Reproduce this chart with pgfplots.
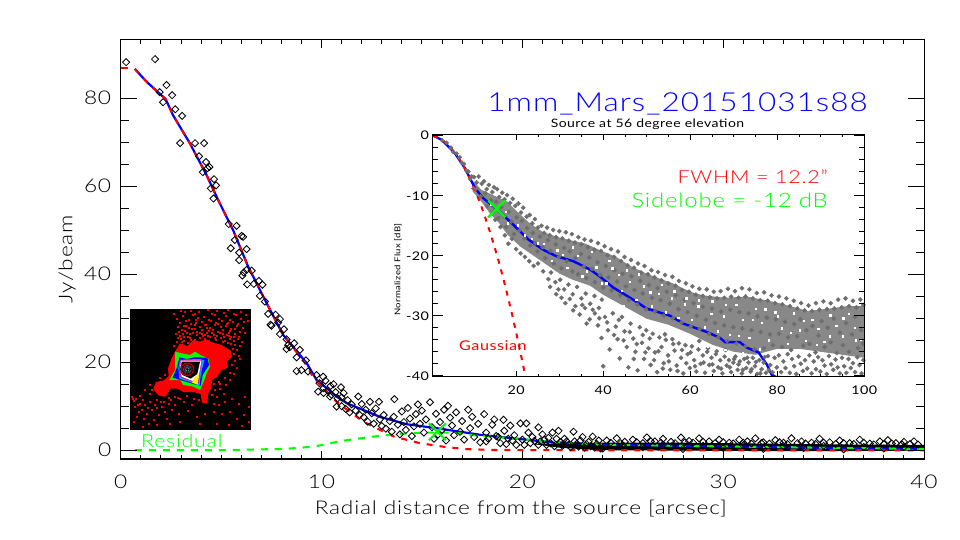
\documentclass[border=0pt]{standalone}
\usepackage{pgfplots}
\pgfplotsset{compat=1.18}
\usepackage{fontspec}
\setmainfont{Lato Light}[FakeStretch=1.2,LetterSpace=4]
\newfontfamily\rf{Lato}[FakeStretch=1.2,LetterSpace=4]
\newcommand{\fs}[1]{\fontsize{#1}{#1}\selectfont}
\definecolor{dg}{RGB}{110,110,110}
\definecolor{bandg}{RGB}{136,136,136}
\definecolor{rd}{RGB}{255,0,0}
\definecolor{bl}{RGB}{0,0,255}
\definecolor{gr}{RGB}{0,255,0}
\pgfplotsset{
 base/.style={scale only axis,anchor=south west,clip=true,tick align=inside,
  axis line style={line width=1bp,black},
  tick style={line width=0.9bp,black},
  /pgf/number format/assume math mode=true},
 mainbox/.style={base,at={(120.7bp,81bp)},width=803.3bp,height=419bp,
  xmin=0,xmax=40,ymin=-2,ymax=93.25},
 insetbox/.style={base,at={(432.5bp,163bp)},width=431.7bp,height=242.5bp,
  xmin=0.76,xmax=100,ymin=-40.2,ymax=0.2},
}
\begin{document}
\begin{tikzpicture}
\useasboundingbox (0,0) rectangle (960bp,540bp);
% ---------- main axis
\begin{axis}[mainbox,
 xtick={0,10,20,30,40},minor x tick num=9,ytick=\empty,
 major tick length=8bp,minor tick length=4bp,
 xticklabel style={font=\fs{19},yshift=-12bp},
 xlabel={Radial distance from the source [arcsec]},
 xlabel style={font=\fs{19},at={(axis description cs:0.498,-0.119)},anchor=center},
]
\addplot[fill=black,draw=none] coordinates {(20.5,1.4)(22,1.6)(24,1.7)(28,1.7)(32,1.5)(36,1.3)(40,1.2)(40,-.1)(36,-.2)(32,-.2)(28,-.1)(24,0)(22,.5)} -- cycle;
\addplot[only marks,mark=square,mark size=2.5bp,mark options={rotate=45,line width=0.85bp,black}] coordinates {
(.27,88.2)(1.71,88.9)(2.28,83)(2.56,80.7)(1.94,81.4)(2.11,79.1)(2.72,77.5)(3.06,76)(2.96,69.8)(3.7,69.8)(4.15,69.8)(3.9,66.8)(4.25,65.5)(4.42,64.4)(4.32,64.1)(4.09,63.2)(4.65,61.6)(4.75,60.2)(4.49,59.5)(4.62,57.2)
(5.38,51.4)(5.77,51)(6.02,48.7)(6.1,48.5)(5.68,47.8)(5.48,45.9)(6.27,45.7)(5.9,44.9)(5.9,43.2)(6.52,40.8)(6.27,41)(6.13,40.4)(6.06,39.7)(6.3,37.7)(6.63,37.8)(6.88,38.5)(7.06,37.6)(6.93,35.1)(7.18,33.8)(7.34,31)(7.71,30.8)(7.93,29.8)(7.84,29)(7.46,28.5)(7.51,28.3)(8.13,27.5)(7.93,26.4)(8.26,25.2)(8.64,24.3)(8.34,23.9)(8.42,23.4)(8.92,22.8)(8.26,23)(8.76,21.1)(9.22,20.4)(8.76,18)(9,18.2)(9.33,17.9)(9.75,17.1)(10.08,16.7)(9.83,13.3)(10.1,13)(10.42,12.2)(10.75,9.9)
(9.9,15.2)(10.1,14.1)(10.2,15.8)(10.3,13.6)(10.45,14.6)(10.5,12.6)(10.6,15)(10.7,13.2)(10.8,11.8)(10.97,14.3)(11,12)(11,10)(11.1,13)(11.2,9.4)(11.3,11.4)(11.4,8.6)(11.5,10.4)(11.7,9)(11.83,12.2)(11.9,8)(12,10.5)(12.1,7.5)(12.2,9.2)(12.3,6.5)(12.41,11)(12.5,8.4)(12.6,6)(12.7,9.5)(12.86,11)(12.9,7)(13,5.5)(13.1,8)(13.2,4.9)(13.4,6.6)(13.63,11.6)
(13.5,4.2)(13.6,7.6)(13.8,5.8)(13.9,3.6)(14,8.8)(14.1,6.4)(14.2,4.6)(14.3,9.6)(14.4,7.2)(14.5,3.2)(14.6,5.4)(14.7,8.2)(14.8,10.4)(14.9,6)(15,9)(15.1,4)(15.2,7)(15.4,10.9)(15.5,5.2)(15.6,2.6)(15.7,8.3)(15.8,3.6)(15.9,6.4)(16,4.6)(16.1,9.2)(16.2,2.2)(16.3,10.1)(16.4,7.4)(16.5,5.6)(16.6,3.4)(16.7,8.6)(16.9,4.2)(17,6.6)(17.1,2.4)(17.3,9.2)(17.4,5)(17.5,7.6)(17.6,3)(17.8,6)(17.9,1.8)(18.1,8.2)(18.2,4)(18.3,2.6)(18.5,5.8)(18.6,7)(18.7,3.2)(18.9,1.6)(19.06,6.9)(19.1,4.4)(19.3,2.6)(19.4,5.6)(19.6,3.4)(19.7,1.2)(19.9,6.1)(20,2.4)(20.2,6.1)(20.3,4)(20.4,1.6)(20.5,3)(20.8,5.2)(20.9,2)(21,3.6)(21.2,1.2)(21.3,2.8)(21.5,4)(21.6,.9)(21.8,4.4)(21.9,1.8)(22.1,2.6)(22.3,1.2)(22.55,4.2)(22.6,2)(22.8,.8)(23,3)(23.2,1.4)(23.5,3.1)(23.6,.6)(23.8,2.2)
(18.2,2)(18.8,3)(19.2,1.4)(19.5,2.2)(20.1,1.2)(20.6,2.1)(20.8,1.2)(21.1,2.4)(21.4,1.6)(21.7,2.6)(22,1)(22.2,2)(22.4,.7)(22.7,1.4)(22.9,2.2)(23.1,.6)(23.3,1.9)(23.4,.9)(23.7,1.4)(23.9,.4)
(24.2,2.2)(24.7,2.7)(25.1,1.9)(25.5,2.4)(26.2,2.9)(26.6,2)(27,2.6)(27.4,1.9)(27.9,2.9)(28.3,2.1)(28.8,2.7)(29.3,2)(29.8,2.4)(30.3,1.7)(30.8,2.4)(31.2,2)(31.6,2.7)(32,1.8)(32.6,2.3)(33,1.7)(33.4,2.7)(33.9,2)(34.4,1.7)(34.8,2.6)(35.3,1.8)(35.8,2.2)(36.3,1.6)(36.8,2.4)(37.3,1.5)(37.8,2)(38.2,2.3)(38.6,1.6)(39,1.9)(39.5,2)
(24.4,1.7)(24.9,1.6)(25.7,1.8)(26,1.6)(26.4,2)(26.9,1.7)(27.6,1.6)(28.1,1.8)(28.5,1.7)(29,1.9)(29.6,1.6)(30,1.8)(30.5,1.5)(31,1.7)(31.4,1.5)(31.9,1.6)(32.3,1.5)(32.8,1.8)(33.2,1.4)(33.7,1.6)(34.1,1.5)(34.6,1.4)(35,1.7)(35.6,1.4)(36,1.6)(36.5,1.4)(37,1.7)(37.5,1.3)(38,1.4)(38.4,1.5)(38.9,1.3)(39.3,1.4)(39.7,1.3)
(24,.4)(25,1.1)(26,.7)(27,1.2)(28,.3)(29,1)(30,.5)(31,1.1)(32,.3)(33,.9)(34,.5)(35,1)(36,.2)(37,.7)(38,.4)(39,.7)
};
\addplot[bl,line width=2.2bp] coordinates {(.7,86.7)(1.28,83.8)(2.24,79.8)(2.6,76.2)(3.44,69.8)(4.27,62.6)(4.85,56.9)(5.6,50)(6.35,41.7)(7.18,34.2)(8.09,26.2)(9.26,19.8)(9.75,16)(10.75,12.2)(11.25,10.7)(12.9,7.6)(14.24,5.9)(15.74,5)(17.9,3.5)(21,2)(23.9,1.25)(28,1)(32,.75)(36,.5)(40,.3)};
\addplot[rd,line width=2.1bp,dash pattern=on 6bp off 7bp] coordinates {(.7,86.7)(1.28,83.8)(2.24,79.8)(2.6,76.2)(3.44,69.8)(4.27,62.6)(4.85,56.9)(5.6,50)(6.35,41.7)(7.18,34.2)(8.09,26.2)(9.26,19.3)(9.6,16.4)(10.75,11)(12.07,6.5)(13.6,3.1)(14.9,1.6)(16.2,.7)(17.2,.25)(18.5,.05)(22,0)(40,0)};
\addplot[rd,line width=2.1bp] coordinates {(0,86.8)(.35,86.8)};
\addplot[gr,line width=2.1bp,dash pattern=on 7bp off 7bp] coordinates {(.7,0)(5,0)(8.2,.3)(9.6,.8)(11,2.1)(12.4,3)(13.75,3.7)(15.07,4)(16.55,4)(17.9,3.25)(19.6,2.7)(21,2)(23.9,1.25)(28,1)(32,.75)(36,.5)(40,.3)};
\addplot[only marks,mark=x,mark size=12bp,mark options={gr,line width=2.2bp}] coordinates {(15.77,4.2)};
\end{axis}
\begin{axis}[mainbox,
 ytick={0,20,40,60,80},minor y tick num=3,xtick=\empty,
 major tick length=16bp,minor tick length=8bp,
 yticklabel style={font=\fs{19},xshift=-6bp},
 ylabel={Jy/beam},
 ylabel style={font=\fs{19},at={(axis description cs:-0.0668,0.477)},anchor=center},
]
\addplot[draw=none,forget plot] coordinates {(0,0)};
\end{axis}
% ---------- colour image
\begin{axis}[scale only axis,anchor=south west,at={(130bp,110bp)},width=121bp,height=121bp,
 xmin=90,xmax=453,ymin=57,ymax=420,y dir=reverse,xtick=\empty,ytick=\empty,
 axis line style={draw=none},axis background/.style={fill=black}]
\addplot[fill=rd,draw=none] coordinates {(228,180)(240,160)(262,168)(280,150)(300,155)(318,148)(340,158)(365,165)(392,182)(396,200)(380,215)(385,232)(365,240)(350,262)(338,268)(333,295)(325,310)(322,340)(306,338)(302,312)(280,306)(250,306)(232,296)(212,296)(196,320)(175,316)(160,296)(168,276)(190,272)(206,258)(204,235)(215,205)} -- cycle;
\addplot[only marks,mark=square*,mark size=0.62bp,rd] coordinates {
(222,72)(241,63)(253,66)(271,61)(284,70)(297,64)(322,59)(336,71)(349,63)(371,67)(383,60)(401,72)(423,64)(437,73)(231,85)(249,76)(267,88)(279,74)(293,84)(312,79)(325,90)(344,75)(357,86)(376,77)(389,88)(407,74)(421,85)(443,91)
(238,98)(256,93)(273,101)(287,89)(304,95)(318,103)(331,92)(347,99)(366,91)(379,102)(397,94)(413,100)(431,96)(234,110)(251,106)(266,113)(283,104)(299,111)(314,105)(329,114)(345,103)(361,110)(377,106)(393,115)(409,107)(427,113)
(236,124)(246,119)(259,127)(275,116)(289,124)(305,120)(321,127)(337,118)(353,125)(369,119)(385,128)(403,117)(419,126)(238,137)(249,131)(263,139)(277,129)(291,135)(306,130)(322,138)(336,129)(351,136)(367,131)(381,134)(393,140)(405,131)(417,140)(433,127)(241,147)(252,152)(268,143)(284,149)(299,142)(314,146)(330,141)(346,149)(361,143)(374,152)(388,147)(400,152)(412,145)(425,154)(231,156)(222,168)(244,154)(262,158)(278,160)(382,158)(392,162)(405,164)(420,167)(398,177)(410,180)(402,192)(415,197)(405,212)(418,207)(395,225)(410,232)(388,247)(402,252)(375,262)(390,268)(360,280)(378,285)
(228,132)(233,143)(255,122)(268,130)(284,117)(298,127)(313,133)(327,121)(342,135)(358,128)(372,141)(388,122)(250,141)(272,150)(290,156)(308,138)(326,152)(344,142)(368,154)(386,137)(402,141)(256,108)(288,98)(320,113)(354,100)(383,97)
(95,320)(100,332)(108,325)(118,340)(105,350)(125,358)(135,345)(115,365)(140,372)(150,335)(155,360)(165,345)(175,375)(160,388)(185,350)(195,365)(205,340)(215,358)(130,385)(110,380)(145,400)(170,405)(200,385)(225,345)(235,372)(250,335)(262,362)(275,345)(290,380)(210,400)(240,395)(100,395)(128,410)(97,326)(112,345)(128,330)(143,352)(170,352)(182,335)(212,330)(232,322)
(150,312)(170,330)(190,335)(205,322)(225,320)(240,325)(260,318)(280,325)(295,330)(345,300)(360,295)(350,320)(372,310)(340,340)(355,345)(375,335)(395,325)(415,340)(435,320)(445,350)(340,365)(365,372)(390,365)(410,385)(430,375)(350,400)(385,405)(445,395)(425,408)(315,370)(300,400)(150,285)(135,300)(120,318)(195,255)(180,275)(178,262)(170,290)(155,300)(342,280)(355,275)(335,315)
};
\addplot[fill=gr,draw=none] coordinates {(225,185)(245,190)(270,195)(285,185)(300,195)(325,205)(330,230)(320,250)(315,265)(300,300)(280,290)(250,285)(240,270)(208,270)(225,240)(225,210)} -- cycle;
\addplot[fill=bl,draw=none] coordinates {(238,202)(260,207)(285,202)(322,203)(327,225)(308,255)(302,287)(280,282)(250,273)(218,263)(232,230)} -- cycle;
\addplot[fill=cyan,draw=none] coordinates {(240,209)(300,207)(313,211)(303,250)(299,286)(270,276)(238,266)(235,235)} -- cycle;
\addplot[fill=magenta,draw=none] coordinates {(242,210)(306,210)(299,252)(295,283)(272,273)(242,263)(237,238)} -- cycle;
\addplot[fill=white,draw=none] coordinates {(243,212)(304,212)(297,255)(292,278)(270,270)(245,260)(240,238)} -- cycle;
\addplot[fill=yellow,draw=none] coordinates {(284,262)(297,252)(293,284)(276,278)} -- cycle;
\addplot[fill=black,draw=none] coordinates {(245,215)(300,215)(292,252)(272,266)(247,254)(242,238)} -- cycle;
\addplot[only marks,mark=*,mark size=7bp,mark options={draw=none,fill=rd!85!black}] coordinates {(262,238)};
\addplot[only marks,mark=*,mark size=5.6bp,mark options={draw=none,fill=rd!55!black}] coordinates {(262,238)};
\addplot[only marks,mark=*,mark size=4.5bp,mark options={draw=none,fill={rgb,255:red,135;green,115;blue,140}}] coordinates {(262,238)};
\addplot[only marks,mark=*,mark size=3.4bp,mark options={draw=none,fill={rgb,255:red,70;green,70;blue,175}}] coordinates {(262,238)};
\addplot[only marks,mark=*,mark size=2.4bp,mark options={draw=none,fill={rgb,255:red,120;green,170;blue,195}}] coordinates {(262,238)};
\addplot[only marks,mark=*,mark size=1.4bp,mark options={draw=none,fill=yellow}] coordinates {(262,238)};
\addplot[only marks,mark=*,mark size=0.6bp,mark options={draw=none,fill=black}] coordinates {(262,238)};
\end{axis}
% ---------- inset axis
\begin{axis}[insetbox,
 xtick={20,40,60,80,100},minor x tick num=3,ytick=\empty,
 major tick length=5.5bp,minor tick length=3bp,
 xticklabel style={font=\rf\fs{12},yshift=-5bp},
]
\addplot[fill=bandg,draw=none] coordinates {(10,-7.5)(12,-9)(15,-10)(18,-11)(20,-12.5)(23,-14.5)(26,-16)(30,-17)(33,-17.5)(36,-18)(39,-19)(43,-20.2)(46,-21.6)(50,-23)(56,-24.6)(60,-26)(63,-26.6)(68,-27)(73,-26.8)(78,-27.5)(81,-28)(87,-29.2)(92,-28.8)(96,-28.4)(100,-28.4)(100,-37)(95,-36.5)(90,-36)(85,-35.5)(80,-35.5)(75,-36.5)(70,-36)(65,-34.8)(60,-33)(55,-31.5)(50,-30.5)(45,-28.5)(40,-26.5)(37,-25)(33,-24)(30,-23)(27,-21.5)(24,-20)(21,-18.5)(18,-16.5)(16,-14.5)(14,-13)(12,-11)(10,-9.3)} -- cycle;
\addplot[only marks,mark=square*,mark size=1.5bp,mark options={rotate=45,dg}] coordinates {
(3,-.8)(4,-1.2)(5,-2)(5.5,-2.7)(6.3,-3)(7,-3.6)(7.5,-4.5)(8,-4.7)(8.5,-5.8)(9,-6)(9.4,-7.2)(9.8,-6.8)(10.2,-8.8)
(10.3,-6.9)(10.9,-7.8)(11.4,-6.8)(12.1,-8)(12.6,-7.6)(13.2,-8.9)(13.7,-8.2)(14.5,-9.4)(14.9,-8.6)(15.6,-8.9)(16.1,-10.2)(16.8,-9.5)(17.3,-10.6)(17.9,-9.9)(18.6,-11.2)(19.2,-10.5)(19.8,-11.7)(20.5,-11.3)(21.1,-12.8)(21.6,-12)(22.4,-13.5)(23.1,-13.2)(23.7,-14.6)(24.3,-13.9)(25,-15.3)(25.8,-15)(26.4,-16.2)(27.1,-15.3)(27.7,-16.6)(28.5,-15.7)(29.2,-16.9)(29.9,-15.9)(30.6,-17.1)(31.4,-16.1)(32.1,-17.5)(32.8,-16.4)(33.5,-17.8)(34.3,-16.9)(35,-18.1)(35.7,-17.3)(36.5,-18.6)(37.2,-17.5)(38,-19)(38.8,-17.9)(39.5,-19.2)(40.3,-18.4)(41,-19.9)(41.8,-18.9)(42.5,-20.2)(43.4,-19.3)(44.1,-20.9)(44.9,-20.2)(45.6,-21.6)(46.4,-20.7)(47.1,-22)(48,-21.3)(48.7,-22.8)(49.5,-21.7)(50.3,-23.1)(51.1,-22.4)(51.8,-23.6)(52.6,-22.7)(53.4,-24.1)(54.2,-23.2)(55,-24.6)(55.9,-23.5)(56.6,-25)(57.4,-24.2)(58.1,-25.7)(59,-24.6)(59.7,-26)(60.5,-25.1)(61.3,-26.5)(62.1,-25.5)(62.9,-26.7)(63.8,-25.6)(64.5,-26.9)(65.4,-26)(66.2,-27.1)(67,-25.9)(67.8,-27)(68.7,-25.5)(69.4,-26.8)(70.3,-25.9)(71.1,-27)(71.9,-25.4)(72.7,-26.8)(73.6,-25.6)(74.4,-27.1)(75.3,-26.2)(76.1,-27.4)(77,-26.1)(77.8,-27.5)(78.7,-26.6)(79.5,-27.9)(80.4,-26.8)(81.2,-28.1)(82.1,-27.1)(82.9,-28.4)(83.8,-27.5)(84.6,-28.8)(85.5,-27.9)(86.3,-29.1)(87.2,-28.3)(88,-29.2)(88.9,-27.9)(89.7,-29)(90.6,-27.6)(91.4,-28.9)(92.3,-27.9)(93.1,-28.8)(94,-27.3)(94.8,-28.6)(95.7,-27.1)(96.5,-28.4)(97.4,-27.5)(98.2,-28.6)(99.1,-27.3)(99.8,-28.2)
(10.8,-8.9)(11.8,-10.1)(12.9,-9.6)(13.3,-11.7)(14.2,-10.8)(14.8,-12.6)(15.4,-11)(15.9,-13.7)(16.6,-11.9)(17.1,-13.4)(17.7,-15.2)(18.3,-12.7)(18.9,-14.3)(19.5,-16.4)(20.1,-13.6)(20.7,-15.8)(21.3,-14.2)(21.9,-17.1)(22.5,-15.4)(23.2,-18.3)(23.8,-16.2)(24.4,-17.9)(24.9,-19.3)(25.5,-16.8)(26.1,-18.6)(26.7,-20.4)(27.3,-17.4)(27.9,-19.2)(28.6,-21.3)(29.1,-18.1)(29.8,-20.2)(30.4,-22.1)(31,-18.7)(31.6,-20.9)(32.3,-19.3)(32.9,-22.6)(33.6,-20.4)(34.2,-23.1)(34.9,-19.7)(35.5,-21.8)(36.1,-23.7)(36.8,-20.3)(37.4,-22.2)(38.1,-24.4)(38.7,-21.1)(39.3,-23.2)(40,-25.3)(40.6,-21.7)(41.2,-23.6)(41.9,-25.8)(42.6,-22.4)(43.2,-24.3)(43.9,-26.6)(44.5,-23)(45.2,-25.1)(45.9,-27.4)(46.5,-23.4)(47.2,-25.7)(47.8,-28.1)(48.5,-24.2)(49.1,-26.3)(49.8,-28.9)(50.5,-24.9)(51.2,-27)(51.9,-29.3)(52.5,-25.4)(53.2,-27.4)(53.9,-30)(54.6,-26)(55.3,-28)(56,-30.4)(56.7,-26.6)(57.3,-28.9)(58,-31.1)(58.7,-27.3)(59.4,-29.4)(60.1,-31.8)(60.8,-27.9)(61.5,-30)(62.2,-32.2)(62.9,-28.5)(63.6,-30.7)(64.3,-33)(65,-28.8)(65.7,-31.2)(66.4,-33.6)(67.1,-29.3)(67.8,-31.6)(68.5,-34.2)(69.2,-29)(69.9,-31.9)(70.6,-34.6)(71.3,-29.4)(72,-32.1)(72.7,-35.1)(73.4,-29.6)(74.1,-32.4)(74.8,-35.6)(75.5,-30.1)(76.2,-32.7)(76.9,-35.4)(77.6,-30.3)(78.3,-33.1)(79,-34.9)(79.7,-30.6)(80.4,-33)(81.1,-35.2)(81.8,-31)(82.5,-33.6)(83.2,-35.7)(83.9,-31.4)(84.6,-33.4)(85.3,-30.6)(86,-35)(86.7,-32.4)(87.4,-34.7)(88.1,-31.7)(88.8,-36.1)(89.5,-33.3)(90.2,-30.9)(90.9,-35.2)(91.6,-32)(92.3,-34.4)(93,-30.5)(93.7,-36.2)(94.4,-32.8)(95.1,-34.9)(95.8,-31.2)(96.5,-36)(97.2,-33.1)(97.9,-30.2)(98.6,-35.4)(99.3,-32.4)(99.7,-34.7)
(15.2,-14)(16.4,-15.2)(17.4,-16.6)(18.2,-18)(19,-17.2)(20,-18.9)(21,-19.6)(22,-20.2)(23,-20.9)(24,-21.7)(25,-21.3)(26.2,-22.6)(27.4,-23.9)(28,-22.8)(29,-24.4)(30.1,-24)(31,-25.6)(32,-24.8)(33,-26.4)(34,-25.2)(35,-27.1)(36,-26.3)(37,-28)(38,-26.7)(39,-28.7)(39.7,-27.3)
(27.8,-25.2)(29.2,-26.4)(30.4,-27)(32.3,-27.2)(33.6,-28.4)(34.6,-29.8)(35.8,-28.7)(36.9,-30.6)(38.1,-29.6)(38.8,-31.6)(39.6,-33.7)(40.4,-30.2)(41.1,-32.4)(41.5,-35.6)(40,-38.4)(42.2,-29.6)(42.9,-31.8)(43.3,-33.9)(43.8,-37.1)(44.3,-30.2)(44.9,-32.6)(45.4,-35.2)(45.8,-38.6)(46.3,-31.3)(46.9,-33.8)(47.4,-36)(47.9,-39.1)(48.4,-31.9)(48.9,-34.5)(49.4,-37.2)(49.9,-32.4)(50.4,-35.4)(50.9,-38.2)(51.4,-33)(51.9,-36.1)(52.4,-39.4)(52.9,-33.6)(53.4,-35.2)(53.9,-37.9)(54.4,-34)(54.9,-36.6)(55.4,-39)(55.9,-33.9)(56.4,-35.8)(56.9,-38.3)(57.4,-34.6)(57.9,-37)(58.4,-39.6)(58.9,-34.9)(59.4,-36.4)(59.9,-38.7)(60.4,-35.1)(60.9,-37.4)(61.4,-39.3)(61.9,-35.6)(62.4,-38)(62.9,-36.6)(63.4,-39.5)(63.9,-36)(64.4,-38.2)(64.9,-37)(65.4,-39.2)(65.9,-36.4)(66.4,-38.6)(66.9,-37.4)(67.4,-39.6)(67.9,-36.8)(68.4,-38.3)(68.9,-37.4)(69.4,-39.4)(69.9,-37.8)(70.4,-36.8)(70.9,-39)(71.4,-37.6)(71.9,-39.6)(72.4,-37.2)(72.9,-38.7)(73.4,-37.8)(73.9,-39.3)(74.4,-37)(74.9,-38.4)(75.4,-39.7)(75.9,-37.4)(76.4,-38.9)(76.9,-37.8)(77.4,-39.5)(77.9,-36.7)(78.4,-38.2)(78.9,-39.4)(79.4,-37)(79.9,-38.6)(80.4,-36.6)(80.9,-39.4)(81.4,-37.6)(81.9,-38.7)(82.4,-36.4)(82.9,-39.5)(83.4,-37.2)(83.9,-38.4)(84.4,-39.7)(84.9,-36.8)(85.4,-38)(85.9,-39.2)(86.4,-37.4)(86.9,-38.8)(87.4,-36.6)(87.9,-39.6)(88.4,-37.6)(88.9,-38.9)(89.4,-36.9)(89.9,-39.3)(90.4,-37.4)(90.9,-38.3)(91.4,-39.7)(91.9,-36.7)(92.4,-38.1)(92.9,-39)(93.4,-37.3)(93.9,-38.6)(94.4,-39.6)(94.9,-37)(95.4,-38.4)(95.9,-39.5)(96.4,-37.2)(96.9,-38.7)(97.4,-37.9)(97.9,-39.4)(98.4,-36.9)(98.9,-38.2)(99.4,-39.6)(99.8,-37.4)
(29.7,-25.6)(31.3,-27.9)(33.1,-29.1)(35.2,-28.2)(36.2,-31.3)(37.6,-29)(39.1,-30.4)(40.9,-31.1)(42.5,-33.2)(43.6,-30.7)(44.7,-34.1)(46.1,-32.7)(47,-37.2)(47.7,-34.7)(49.1,-33.2)(49.7,-36.1)(50.7,-33.8)(51.7,-37.4)(52.7,-35.9)(53.7,-38.8)(54.2,-33.1)(55.1,-37.6)(56.1,-34.7)(57.1,-39.2)(58.1,-35.7)(59.1,-37.9)(60.1,-36.1)(61.1,-38.4)(62.1,-34.2)(63.1,-37.8)(64.1,-35.4)(65.1,-38.1)(66.1,-35.9)(67.1,-38.8)(68.1,-35.7)(69.1,-38.6)(70.1,-37.2)(71.1,-38.1)(72.1,-39)(73.1,-37)(74.1,-38.9)(75.1,-37.7)(76.1,-39.6)(77.1,-36.9)(78.1,-39.1)
};
\addplot[only marks,mark=square*,mark size=0.7bp,mark options={white}] coordinates {
(14.2,-11.4)(17.6,-12.7)(20.4,-14.9)(23.6,-17.2)(26.3,-18)(29.4,-19.1)(31.7,-22)(34.1,-20)(36.2,-22.6)(38.4,-21.9)(40.7,-24.6)(42.1,-22.1)(44.2,-25.8)(46.1,-24.3)(47.6,-27.3)(49.3,-25.1)(51.1,-28.4)(52.8,-26.3)(54.3,-29.4)(55.8,-27.1)(57.2,-30.3)(58.8,-28.1)(60.3,-30.7)(61.8,-28.4)(63.3,-31.9)(64.8,-29.7)(66.3,-32.6)(67.7,-30.1)(69.1,-33.2)(70.6,-28.2)(72.1,-30.7)(73.6,-33.7)(75,-28.8)(76.5,-31.2)(78,-34.1)(79.5,-29.4)(81,-32.1)(82.4,-34.7)(83.8,-29.6)(85.2,-32.4)(86.6,-34.2)(88,-30.7)(89.4,-32.2)(90.8,-34.3)(92.2,-29.9)(93.6,-31.7)(95,-33.4)(96.4,-29.7)(97.8,-32)(99.2,-34)(18,-14.6)(22,-16.6)(25,-17.9)(28.2,-20.8)(30.7,-19.8)(33,-18.6)(35.2,-23.4)(37.3,-19.3)(39.6,-24.6)(41.4,-20.8)(43.5,-23.2)(45.4,-22.4)(48.2,-23.1)(50.8,-26.1)(53.5,-24.8)(56.3,-25.9)(59.1,-27.1)(62,-27.4)(65.1,-27.6)(68.2,-28.2)(71.2,-33.3)(74.3,-30.7)(77.2,-28.9)(80.1,-30.1)(83.1,-32.8)(86.1,-30.8)(89.1,-34.8)(92.1,-33.4)(95.2,-30.4)(98.1,-34.1)(30,-24.8)(33.9,-27.2)(37.8,-27.6)(41.3,-27.9)(44.6,-28.3)(48,-30.4)(52.2,-31.7)(56,-33.3)(60.2,-33.7)(64,-35.2)(68,-35.7)(72,-36.2)(76,-35.6)
};
\addplot[bl,line width=2.4bp] coordinates {(.95,0)(2.9,-.7)(5.9,-2.9)(8.2,-5.4)(10.5,-8.7)(12.4,-10.4)(15.5,-12.2)(19.3,-14.8)(22.8,-17.3)(26.2,-19)(29.3,-20.1)(33.1,-20.9)(37,-22.3)(39.3,-23.5)(42.3,-25.3)(46.2,-27)(50,-28.8)(55.4,-30)(58.4,-31.3)(63.8,-32.7)(66.9,-33.7)(68,-34.4)(71.4,-34.4)(73,-35.3)(75.7,-36.1)(77.6,-38.1)(78.7,-39.8)(79.7,-40.2)(81,-40.2)};
\addplot[rd,line width=2bp,dash pattern=on 5bp off 6bp] coordinates {(.9,-.05)(2,-.33)(3,-.74)(4,-1.3)(5,-2.05)(6,-2.95)(7,-4)(8,-5.25)(9,-6.6)(10,-8.2)(11,-9.9)(12,-11.8)(13,-13.9)(14,-16.1)(15,-18.5)(16,-21)(17,-23.7)(18,-26.6)(19,-29.6)(20,-32.8)(21,-36.2)(22,-39.7)(22.3,-40.2)};
\addplot[only marks,mark=x,mark size=12bp,mark options={gr,line width=2.2bp}] coordinates {(15.5,-12.2)};
\end{axis}
\begin{axis}[insetbox,
 ytick={-40,-30,-20,-10,0},minor y tick num=4,xtick=\empty,
 major tick length=10bp,minor tick length=5bp,
 yticklabel style={font=\rf\fs{12},xshift=0bp},
 ylabel={Normalized Flux [dB]},
 ylabel style={font=\rf\fs{8},at={(axis description cs:-0.08,0.443)},anchor=center},
 every axis title shift=0pt,
 title={Source at 56 degree elevation},
 title style={font=\rf\fs{11.7},at={(axis description cs:0.498,1.043)},anchor=center},
]
\addplot[draw=none,forget plot] coordinates {(50,-20)};
\end{axis}
% ---------- text
\node[anchor=base east,text=bl,font=\fs{26.3},inner sep=0pt] at (868bp,428bp) {1mm\_Mars\_20151031s88};
\node[anchor=base east,text=rd,font=\fs{18},inner sep=0pt] at (828bp,356bp) {FWHM = 12.2"};
\node[anchor=base east,text=gr,font=\fs{20},inner sep=0pt] at (828bp,332.5bp) {Sidelobe = -12 dB};
\node[anchor=base west,text=rd,font=\rf\fs{13.5},inner sep=0pt] at (459bp,189bp) {Gaussian};
\node[anchor=base west,text=gr,font=\fs{18},inner sep=0pt] at (141bp,92bp) {Residual};
\end{tikzpicture}
\end{document}
